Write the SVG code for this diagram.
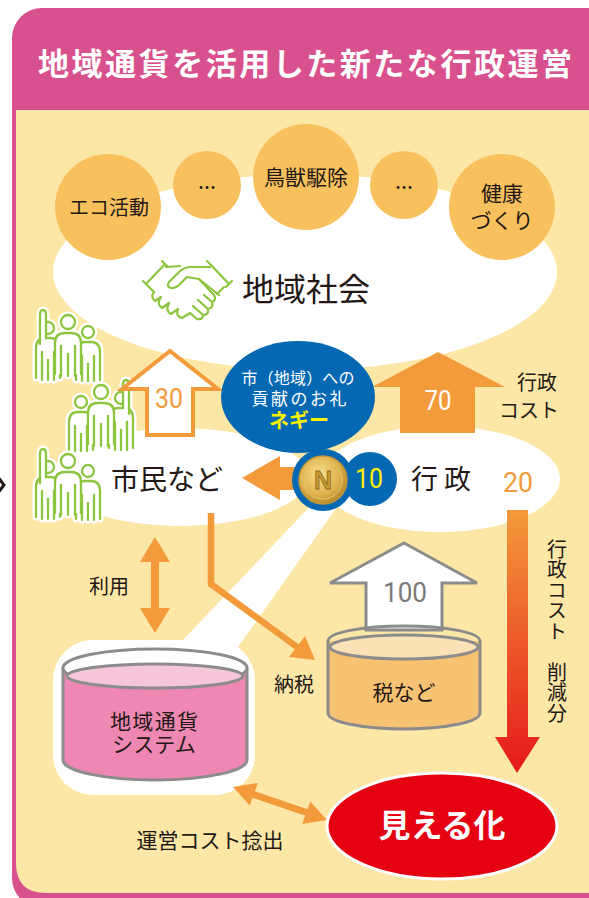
<svg xmlns="http://www.w3.org/2000/svg" width="589" height="898" viewBox="0 0 589 898">
<defs>
<style>
  .jp{font-family:"Noto Sans CJK JP","Noto Sans",sans-serif;}
  .num{font-family:"Roboto","Liberation Sans",sans-serif;}
  .k{fill:#231815;}
  .circ{fill:#F9C15D;}
  .org{fill:#F39A3B;}
  .cyl{stroke:#8C8C8C;stroke-width:3;}
  .halo{fill:#fff;stroke:#fff;stroke-width:7;stroke-linejoin:round;stroke-linecap:round;}
  .line{fill:#fff;stroke:#8CC63F;stroke-width:2.3;stroke-linejoin:round;stroke-linecap:round;}
</style>
<linearGradient id="cutGrad" x1="0" y1="0" x2="0" y2="1">
  <stop offset="0" stop-color="#F39A3B"/>
  <stop offset="1" stop-color="#E5191B"/>
</linearGradient>
<radialGradient id="gold" cx="0.42" cy="0.38" r="0.65">
  <stop offset="0" stop-color="#F8E08E"/>
  <stop offset="0.65" stop-color="#DDB24B"/>
  <stop offset="1" stop-color="#B5852A"/>
</radialGradient>
<!-- three citizens, outline style -->
<symbol id="people" overflow="visible">
  <circle cx="15" cy="20" r="6"/>
  <path d="M3,70 V40 Q3,30 13,30 H17 Q27,30 27,40 V70 M9,44 V72 M15,52 V72 M21,44 V72"/>
  <path d="M7,36 V7 Q7,2 10,2 Q13,2 13,7 V30"/>
  <circle cx="55" cy="24" r="6"/>
  <path d="M43,72 V44 Q43,34 52,34 H58 Q67,34 67,44 V72 M49,48 V73 M55,56 V73 M61,48 V73"/>
  <circle cx="35" cy="14" r="7"/>
  <path d="M22,66 V35 Q22,25 32,25 H38 Q48,25 48,35 V66 M28,38 V68 M35,46 V68 M42,38 V68"/>
</symbol>
</defs>

<!-- card frame -->
<rect x="12" y="8" width="610" height="900" rx="30" fill="#D9508E"/>
<path d="M16,110 H600 V893 H46 Q16,893 16,863 Z" fill="#FDE7A7"/>
<text class="jp" x="38" y="75" textLength="534" lengthAdjust="spacing" font-size="31" font-weight="700" fill="#fff">地域通貨を活用した新たな行政運営</text>
<path d="M-2,477 L4,485 L-2,493" fill="none" stroke="#231815" stroke-width="3"/>

<!-- white backdrops -->
<g id="backdrops" fill="#fff">
  <ellipse cx="305" cy="272" rx="252" ry="98"/>
  <ellipse cx="180" cy="477" rx="128" ry="49"/>
  <ellipse cx="440" cy="479" rx="120" ry="53"/>
  <polygon points="316,500 342,500 238,647 183,640"/>
  <rect x="53" y="640" width="202" height="155" rx="40"/>
</g>

<!-- community activities -->
<g id="eco"><circle class="circ" cx="108" cy="207" r="53"/>
  <text class="jp k" x="109" y="215" font-size="20" text-anchor="middle">エコ活動</text></g>
<g id="etc1"><circle class="circ" cx="207" cy="185" r="34"/>
  <text class="jp k" x="207" y="194" font-size="18" font-weight="700" text-anchor="middle">…</text></g>
<g id="wildlife"><circle class="circ" cx="306" cy="177" r="53"/>
  <text class="jp k" x="306" y="185" font-size="21" text-anchor="middle">鳥獣駆除</text></g>
<g id="etc2"><circle class="circ" cx="404" cy="185" r="34"/>
  <text class="jp k" x="404" y="194" font-size="18" font-weight="700" text-anchor="middle">…</text></g>
<g id="health"><circle class="circ" cx="502" cy="207" r="53"/>
  <text class="jp k" font-size="21" text-anchor="middle"><tspan x="502" y="201">健康</tspan><tspan x="502" y="228">づくり</tspan></text></g>

<!-- local community -->
<g id="community">
  <g fill="none" stroke="#8CC63F" stroke-width="2.2" stroke-linecap="round" stroke-linejoin="round">
    <path d="M143,281 L149,287 M146,284 L165,264 M162,261 L168,267"/>
    <path d="M207,261 L213,267 M210,264 L229,284 M226,287 L232,281"/>
    <path d="M210,267 H191 Q184,267 179,272 L169,282 Q166,287 171,288 Q175,289 179,285 L187,277 L199,279 L219,295"/>
    <path d="M166,267 L180,266"/>
    <path d="M149,287 L154,292 Q150,297 155,301 L161,297 Q156,304 162,308 L169,303 Q165,311 171,314 L178,309 Q175,316 182,318 L190,313"/>
    <path d="M199,279 L214,295 Q217,300 212,302 L204,295 M212,302 Q214,308 208,309 L198,300 M208,309 Q209,315 203,315 L193,306 M203,315 Q203,320 197,319 L190,313"/>
    <path d="M224,287 L217,294"/>
  </g>
  <text class="jp k" x="306" y="301" font-size="32" text-anchor="middle">地域社会</text>
</g>

<!-- citizens -->
<g id="citizens">
  <use href="#people" class="halo" transform="translate(33,308)"/>
  <use href="#people" class="line" transform="translate(33,308)"/>
  <use href="#people" class="halo" transform="translate(136,378) scale(-1,1)"/>
  <use href="#people" class="line" transform="translate(136,378) scale(-1,1)"/>
  <use href="#people" class="halo" transform="translate(33,447)"/>
  <use href="#people" class="line" transform="translate(33,447)"/>
</g>

<!-- contribution arrows -->
<g id="arrow30">
  <polygon points="170,351 218,389 193,389 193,435 147,435 147,389 122,389" fill="#fff" stroke="#F39A3B" stroke-width="4" stroke-linejoin="miter"/>
  <text class="num" x="169" y="408" font-size="27" fill="#F39A3B" text-anchor="middle" textLength="28" lengthAdjust="spacingAndGlyphs">30</text>
</g>
<g id="arrow70">
  <polygon points="438,352 505,387 475,387 475,433 400,433 400,387 372,387" class="org"/>
  <text class="num" x="438" y="410" font-size="27" fill="#fff" text-anchor="middle" textLength="27" lengthAdjust="spacingAndGlyphs">70</text>
</g>
<g id="labelCost">
  <text class="jp k" font-size="20" text-anchor="middle"><tspan x="537" y="390">行政</tspan><tspan x="529" y="418">コスト</tspan></text>
</g>

<!-- citizens / administration -->
<g id="citizensLabel"><text class="jp k" x="167" y="490" font-size="28" text-anchor="middle">市民など</text></g>
<g id="admin">
  <text class="jp k" x="441" y="489" font-size="27" text-anchor="middle">行 政</text>
  <text class="num" x="518" y="492" font-size="27" fill="#F39A3B" text-anchor="middle" textLength="30" lengthAdjust="spacingAndGlyphs">20</text>
</g>

<g id="connectors">
  <!-- coin to citizens -->
  <polygon points="242,478 280,456 280,467 305,467 305,490 280,490 280,500" class="org"/>
  <!-- use -->
  <polygon points="155,537 170,562 159,562 159,608 170,608 155,633 140,608 151,608 151,562 140,562" class="org"/>
  <!-- tax payment -->
  <polyline points="211,513 211,584 297,647" fill="none" stroke="#F39A3B" stroke-width="6.5"/>
  <polygon points="315,660 305,636 289,657" class="org"/>
  <!-- cost reduction -->
  <path d="M507,510 H528 V737 H540 L517,773 L495,737 H507 Z" fill="url(#cutGrad)"/>
  <!-- operating cost -->
  <line x1="252" y1="794" x2="308" y2="813" stroke="#F39A3B" stroke-width="7"/>
  <polygon points="233,787 249.8,805.6 257.8,783" class="org"/>
  <polygon points="327,820 302.2,824 310.2,801.4" class="org"/>
</g>

<!-- gratitude currency -->
<g id="negi">
  <ellipse cx="298" cy="397" rx="77" ry="56" fill="#0568B3"/>
  <circle cx="323" cy="480" r="31" fill="#0568B3"/>
  <circle cx="370" cy="479" r="27" fill="#0568B3"/>
  <text class="jp" fill="#fff" text-anchor="middle"><tspan x="298" y="384" font-size="16" textLength="113">市（地域）への</tspan><tspan x="299" y="405" font-size="17" textLength="95">貢献のお礼</tspan><tspan x="299" y="428" font-size="20" font-weight="700" fill="#FFF100">ネギー</tspan></text>
  <circle cx="323" cy="480" r="24" fill="url(#gold)" stroke="#C4963A" stroke-width="1.5"/>
  <circle cx="323" cy="480" r="19" fill="none" stroke="#E9C66A" stroke-width="1"/>
  <text x="323" y="489" font-family="'Liberation Sans',sans-serif" font-weight="700" font-size="25" fill="#C69A32" stroke="#8E6A1E" stroke-width="0.8" text-anchor="middle">N</text>
  <text class="num" x="369" y="488" font-size="27" fill="#FFF100" text-anchor="middle" textLength="28" lengthAdjust="spacingAndGlyphs">10</text>
</g>

<!-- vertical label -->
<g id="cutLabel">
  <text class="jp k" x="557" y="539" font-size="20" writing-mode="vertical-rl" letter-spacing="0.5">行政コスト　削減分</text>
</g>

<g id="useLabel"><text class="jp k" x="109" y="594" font-size="20" text-anchor="middle">利用</text></g>
<g id="taxLabel"><text class="jp k" x="294" y="692" font-size="20" text-anchor="middle">納税</text></g>

<!-- tax revenue -->
<g id="tax">
  <polygon points="404,543 477,583 442,583 442,630 366,630 366,583 330,583" fill="#fff" stroke="#8C8C8C" stroke-width="3"/>
  <text class="num" x="405" y="602" font-size="27" fill="#7A7A7A" text-anchor="middle" textLength="44" lengthAdjust="spacingAndGlyphs">100</text>
  <path d="M328,641 V713 A76,16 0 0 0 480,713 V641" fill="#F8C273" class="cyl"/>
  <path d="M328,641 A76,15 0 0 1 480,641" fill="none" class="cyl"/>
  <ellipse cx="404" cy="647" rx="74" ry="12" fill="#FBE1B6" class="cyl"/>
  <text class="jp k" x="404" y="700" font-size="21" text-anchor="middle">税など</text>
</g>

<!-- local currency system -->
<g id="system">
  <path d="M63,668 V760 A92,20 0 0 0 247,760 V668" fill="#EE87B2" class="cyl"/>
  <ellipse cx="155" cy="668" rx="92" ry="19" fill="#fff" class="cyl"/>
  <ellipse cx="155" cy="676" rx="88" ry="12" fill="#F6C6DA" class="cyl"/>
  <text class="jp k" font-size="21" text-anchor="middle"><tspan x="154" y="729" textLength="88">地域通貨</tspan><tspan x="154" y="752">システム</tspan></text>
</g>
<g id="opLabel"><text class="jp k" x="210" y="848" font-size="21" text-anchor="middle">運営コスト捻出</text></g>

<!-- visualization -->
<g id="visible">
  <ellipse cx="442" cy="826" rx="115" ry="53" fill="#E50012" stroke="#fff" stroke-width="3"/>
  <text class="jp" x="442" y="837" font-size="32" font-weight="700" fill="#fff" text-anchor="middle">見える化</text>
</g>
</svg>
